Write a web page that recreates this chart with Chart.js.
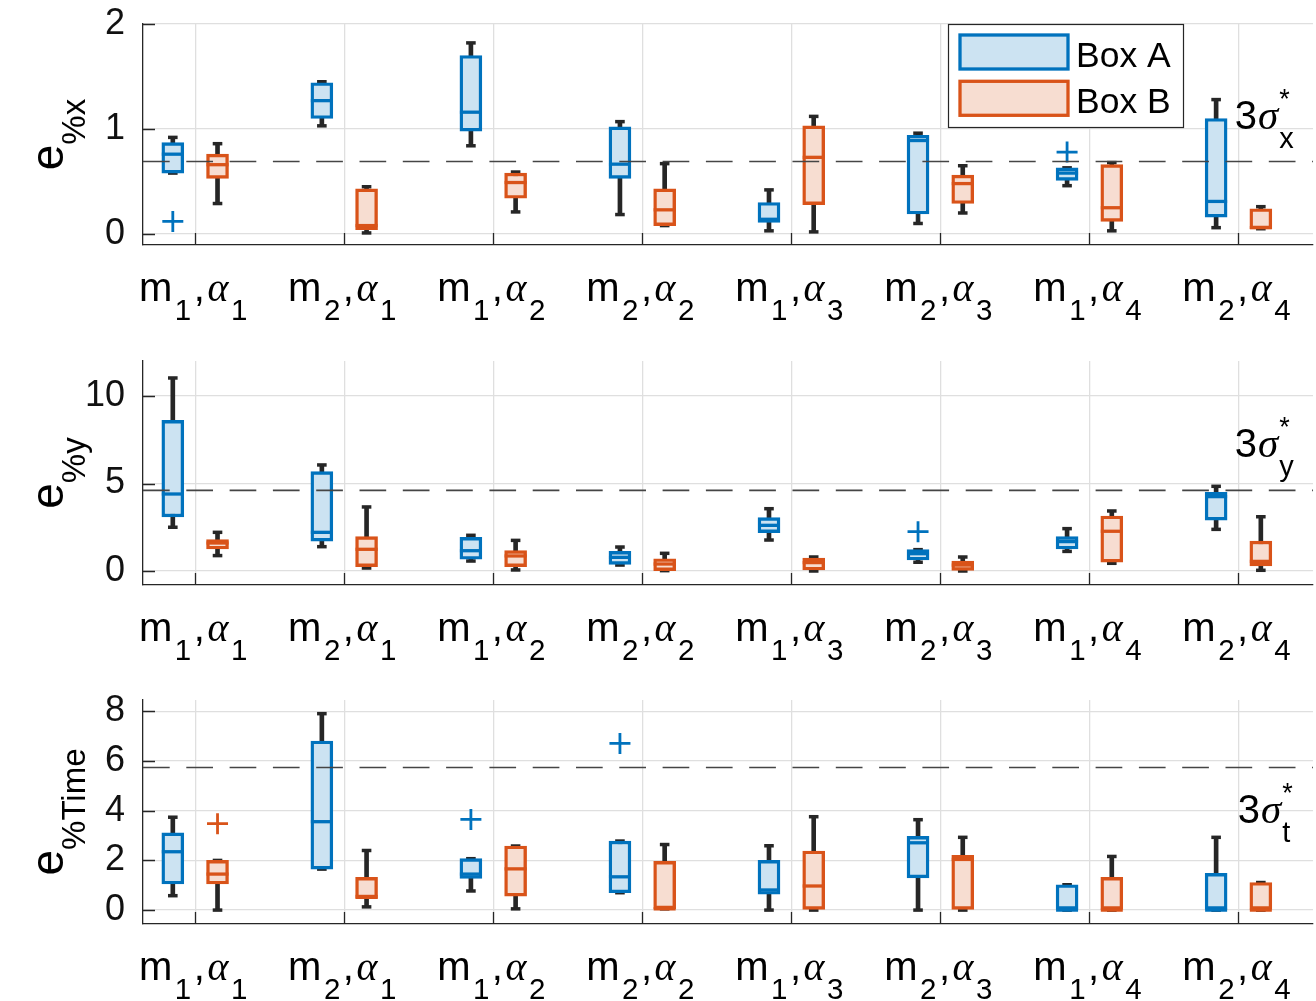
<!DOCTYPE html>
<html><head><meta charset="utf-8">
<script src="https://cdn.jsdelivr.net/npm/chart.js@4.4.1/dist/chart.umd.min.js"></script>
<style>
html,body{margin:0;padding:0;background:#fff;}
#wrap{position:relative;width:1316px;height:1001px;background:#fff;}
canvas{position:absolute;left:0;}
</style></head>
<body><div id="wrap">
<canvas id="c1" width="1316" height="330" style="top:0px"></canvas>
<canvas id="c2" width="1316" height="330" style="top:330px"></canvas>
<canvas id="c3" width="1316" height="341" style="top:660px"></canvas>
</div>
<script>
// ---------------- DATA ----------------
const categories = ['m_1,α_1','m_2,α_1','m_1,α_2','m_2,α_2','m_1,α_3','m_2,α_3','m_1,α_4','m_2,α_4'];
const seriesNames = ['Box A','Box B'];

// Panel 1 : e_%x
const ex_yTicks = [0, 1, 2];
const ex_thr = 0.69;
const ex_A_min = [0.58, 1.03, 0.84, 0.185, 0.03, 0.10, 0.46, 0.06];
const ex_A_q1  = [0.58, 1.10, 0.98, 0.53, 0.11, 0.19, 0.51, 0.16];
const ex_A_med = [0.76, 1.27, 1.16, 0.665, 0.14, 0.89, 0.58, 0.31];
const ex_A_q3  = [0.87, 1.44, 1.70, 1.02, 0.30, 0.94, 0.63, 1.10];
const ex_A_max = [0.92, 1.45, 1.82, 1.07, 0.42, 0.96, 0.63, 1.28];
const ex_A_out = [[1, 0.12], [7, 0.78]];
const ex_B_min = [0.29, 0.01, 0.21, 0.08, 0.02, 0.20, 0.03, 0.05];
const ex_B_q1  = [0.53, 0.04, 0.34, 0.08, 0.28, 0.29, 0.12, 0.05];
const ex_B_med = [0.66, 0.08, 0.49, 0.23, 0.73, 0.48, 0.25, 0.06];
const ex_B_q3  = [0.76, 0.43, 0.58, 0.43, 1.03, 0.56, 0.66, 0.24];
const ex_B_max = [0.86, 0.45, 0.59, 0.67, 1.12, 0.65, 0.68, 0.26];
const ex_B_out = [];

// Panel 2 : e_%y
const ey_yTicks = [0, 5, 10];
const ey_thr = 4.61;
const ey_A_min = [2.50, 1.39, 0.57, 0.34, 1.77, 0.50, 1.12, 2.38];
const ey_A_q1  = [3.09, 1.71, 0.67, 0.38, 2.19, 0.63, 1.26, 2.91];
const ey_A_med = [4.40, 2.21, 1.16, 0.78, 2.61, 0.99, 1.68, 4.25];
const ey_A_q3  = [8.61, 5.68, 1.92, 1.12, 3.05, 1.22, 1.96, 4.50];
const ey_A_max = [11.03, 6.06, 2.04, 1.37, 3.56, 1.22, 2.42, 4.84];
const ey_A_out = [[6, 2.25]];
const ey_B_min = [0.88, 0.17, 0.06, 0.02, 0.00, 0.00, 0.44, 0.04];
const ey_B_q1  = [1.26, 0.25, 0.25, 0.02, 0.06, 0.00, 0.51, 0.29];
const ey_B_med = [1.60, 1.24, 0.86, 0.40, 0.48, 0.34, 2.27, 0.55];
const ey_B_q3  = [1.79, 1.96, 1.16, 0.70, 0.74, 0.57, 3.14, 1.71];
const ey_B_max = [2.21, 3.66, 1.75, 1.01, 0.80, 0.80, 3.43, 3.10];
const ey_B_out = [];

// Panel 3 : e_%Time
const et_yTicks = [0, 2, 4, 6, 8];
const et_thr = 5.74;
const et_A_min = [0.58, 1.65, 0.77, 0.70, 0.00, 0.00, 0.00, 0.00];
const et_A_q1  = [1.05, 1.65, 1.28, 0.70, 0.64, 1.30, 0.00, 0.00];
const et_A_med = [2.35, 3.56, 1.45, 1.34, 0.81, 2.71, 0.00, 0.00];
const et_A_q3  = [3.11, 6.81, 2.07, 2.78, 2.00, 2.97, 1.02, 1.48];
const et_A_max = [3.74, 7.91, 2.07, 2.78, 2.59, 3.64, 1.02, 2.93];
const et_A_out = [[3, 3.65], [4, 6.71]];
const et_B_min = [0.00, 0.13, 0.05, 0.05, 0.00, 0.00, 0.00, 0.00];
const et_B_q1  = [1.05, 0.46, 0.56, 0.05, 0.00, 0.00, 0.00, 0.00];
const et_B_med = [1.45, 0.55, 1.66, 0.05, 0.97, 2.04, 0.00, 0.00];
const et_B_q3  = [2.00, 1.32, 2.58, 1.96, 2.38, 2.21, 1.32, 1.11];
const et_B_max = [2.00, 2.40, 2.58, 2.64, 3.76, 2.93, 2.16, 1.11];
const et_B_out = [[1, 3.48]];

// ---------------- STYLE ----------------
const FONT = "'Liberation Sans', Arial, Helvetica, sans-serif";
const SERIF = "'Liberation Serif', 'Times New Roman', serif";
const TXT = '#111';
const AX = '#262626';
const GRID = '#dfdfdf';
const COLORS = ['#0072BD', '#D95319'];
const FILLS = ['#cce3f2', '#f7ddd1'];
const WHISK = '#262626';
const OFFSETS = [-0.15, 0.15];
const xMin = 0.65, xMax = 8.5;

const panels = [
  {id:'c1', yMin:-0.105, yMax:2, yTicks:ex_yTicks, thr:ex_thr,
   S:[{min:ex_A_min,q1:ex_A_q1,med:ex_A_med,q3:ex_A_q3,max:ex_A_max,out:ex_A_out},
      {min:ex_B_min,q1:ex_B_q1,med:ex_B_med,q3:ex_B_q3,max:ex_B_max,out:ex_B_out}],
   yLabel:'e_{%x}', anno:'3σ^*_x', annoX:7.975, annoY:1.0, padTop:24, padBottom:85, legend:true},
  {id:'c2', yMin:-0.8, yMax:12, yTicks:ey_yTicks, thr:ey_thr,
   S:[{min:ey_A_min,q1:ey_A_q1,med:ey_A_med,q3:ey_A_q3,max:ey_A_max,out:ey_A_out},
      {min:ey_B_min,q1:ey_B_q1,med:ey_B_med,q3:ey_B_q3,max:ey_B_max,out:ey_B_out}],
   yLabel:'e_{%y}', anno:'3σ^*_y', annoX:7.975, annoY:6.5, padTop:31, padBottom:75, legend:false},
  {id:'c3', yMin:-0.56, yMax:8.46, yTicks:et_yTicks, thr:et_thr,
   S:[{min:et_A_min,q1:et_A_q1,med:et_A_med,q3:et_A_q3,max:et_A_max,out:et_A_out},
      {min:et_B_min,q1:et_B_q1,med:et_B_med,q3:et_B_q3,max:et_B_max,out:et_B_out}],
   yLabel:'e_{%Time}', anno:'3σ^*_t', annoX:7.995, annoY:3.5, padTop:40, padBottom:77, legend:false}
];

// ---------------- RICH TEXT ----------------
function parseRich(s){
  const out=[]; let i=0;
  while(i<s.length){
    const c=s[i];
    if(c==='_'||c==='^'){
      const kind = c==='_'?'sub':'sup'; i++;
      let t;
      if(s[i]==='{'){ const j=s.indexOf('}',i); t=s.slice(i+1,j); i=j+1; }
      else { t=s[i]; i++; }
      out.push({text:t, kind});
    } else {
      i++;
      out.push({text:c, kind:/[\u03b1-\u03c9]/.test(c)?'greek':'base'});
    }
  }
  return out;
}
function layoutRich(ctx, tokens, st){
  let x=0, supStart=0, prev=null; const items=[];
  tokens.forEach(tk=>{
    const font = st[tk.kind];
    ctx.font = font;
    const w = ctx.measureText(tk.text).width;
    let sx = x;
    if(tk.kind==='sub' && prev==='sup') sx = supStart;
    const dy = tk.kind==='sub'?st.subDy:(tk.kind==='sup'?st.supDy:0);
    items.push({text:tk.text, font, x:sx, dy});
    if(tk.kind==='sup') supStart = sx;
    x = (tk.kind==='sub' && prev==='sup') ? Math.max(x, sx+w) : sx+w;
    x += (st.gap||0);
    prev = tk.kind;
  });
  return {items, width:x-(st.gap||0)};
}
function drawRich(ctx, str, st, x, y, align, color){
  const L = layoutRich(ctx, parseRich(str), st);
  const x0 = align==='center' ? x - L.width/2 : x;
  ctx.fillStyle = color; ctx.textBaseline='alphabetic'; ctx.textAlign='left';
  L.items.forEach(it=>{ ctx.font = it.font; ctx.fillText(it.text, x0+it.x, y+it.dy); });
}
const XLAB = {base:`40px ${FONT}`, sub:`29.5px ${FONT}`, sup:`27px ${FONT}`, greek:`italic 40px ${SERIF}`, subDy:19, supDy:-20, gap:2.5};
const YLAB = {base:`46px ${FONT}`, sub:`33px ${FONT}`, sup:`27px ${FONT}`, greek:`italic 46px ${SERIF}`, subDy:22, supDy:-20, gap:0};
const ANNO = {base:`40px ${FONT}`, sub:`29px ${FONT}`, sup:`27px ${FONT}`, greek:`italic 41px ${SERIF}`, subDy:19, supDy:-21, gap:1};

// ---------------- DATASETS ----------------
function boxDatasets(s, k){
  const off = OFFSETS[k], col = COLORS[k], fill = FILLS[k];
  const pos = i => i + 1 + off;
  return [
    {type:'bar', label:'whisk', grouped:false, order:6, barThickness:4, backgroundColor:WHISK, borderWidth:0,
     data:s.min.map((v,i)=>({x:pos(i), y:[v, s.max[i]]}))},
    {type:'line', label:'caps', showLine:false, order:5, pointStyle:'line', pointRadius:4.8, pointBorderWidth:3.5,
     pointBorderColor:WHISK, pointBackgroundColor:WHISK,
     data:[...s.min.map((v,i)=>({x:pos(i),y:v})), ...s.max.map((v,i)=>({x:pos(i),y:v}))]},
    {type:'bar', label:seriesNames[k], grouped:false, order:4, barThickness:22, backgroundColor:fill,
     borderColor:col, borderWidth:3.4, borderSkipped:false,
     data:s.q1.map((v,i)=>({x:pos(i), y:[v, s.q3[i]]}))},
    {type:'line', label:'median', showLine:false, order:3, pointStyle:'line', pointRadius:11, pointBorderWidth:3.3,
     pointBorderColor:col, pointBackgroundColor:col,
     data:s.med.map((v,i)=>({x:pos(i),y:v}))},
    {type:'line', label:'outliers', showLine:false, order:2, pointStyle:'cross', pointRadius:10.5, pointBorderWidth:2.8,
     pointBorderColor:col, pointBackgroundColor:col,
     data:s.out.map(([c,v])=>({x:pos(c-1),y:v}))}
  ];
}

function decorPlugin(p){
  return {
    id:'decor',
    afterDraw(chart){
      const {ctx, chartArea:a, scales:{x, y}} = chart;
      ctx.save();
      // inward tick marks
      ctx.strokeStyle = AX; ctx.lineWidth = 1.3;
      ctx.beginPath();
      p.yTicks.forEach(v=>{ const py = Math.round(y.getPixelForValue(v))+0.5; ctx.moveTo(a.left, py); ctx.lineTo(a.left+12, py); });
      categories.forEach((c,i)=>{ const px = Math.round(x.getPixelForValue(i+1))+0.5; ctx.moveTo(px, a.bottom); ctx.lineTo(px, a.bottom-12); });
      ctx.stroke();
      // x tick labels
      categories.forEach((c,i)=>{
        drawRich(ctx, c, XLAB, x.getPixelForValue(i+1) - 2, a.bottom+56, 'center', '#000');
      });
      // y label
      ctx.save();
      ctx.translate(a.left-80, (a.top+a.bottom)/2);
      ctx.rotate(-Math.PI/2);
      drawRich(ctx, p.yLabel, YLAB, 0, 0, 'center', '#000');
      ctx.restore();
      // annotation
      drawRich(ctx, p.anno, ANNO, x.getPixelForValue(p.annoX), y.getPixelForValue(p.annoY), 'left', '#000');
      // legend
      if(p.legend){
        const lx = a.right-365, ly = a.top, lw = 235, lh = 103;
        ctx.fillStyle = '#fff'; ctx.fillRect(lx, ly, lw, lh);
        ctx.strokeStyle = AX; ctx.lineWidth = 1.2; ctx.strokeRect(lx+0.5, ly+0.5, lw, lh);
        seriesNames.forEach((n,k)=>{
          const sy = ly + 11 + k*46.3;
          ctx.fillStyle = FILLS[k]; ctx.fillRect(lx+12, sy, 108, 34);
          ctx.strokeStyle = COLORS[k]; ctx.lineWidth = 3.3; ctx.strokeRect(lx+12, sy, 108, 34);
          ctx.fillStyle = '#000'; ctx.font = `35.5px ${FONT}`; ctx.textBaseline='alphabetic'; ctx.textAlign='left';
          ctx.fillText(n, lx+128, sy+31.5);
        });
      }
      ctx.restore();
    }
  };
}

function noPad(s){ s.paddingTop = 0; s.paddingBottom = 0; s.paddingLeft = 0; s.paddingRight = 0; }

panels.forEach(p=>{
  const datasets = [];
  p.S.forEach((s,k)=>datasets.push(...boxDatasets(s,k)));
  datasets.push({type:'line', label:'threshold', order:1, data:[{x:xMin,y:p.thr},{x:xMax,y:p.thr}],
    borderColor:'#454545', borderWidth:1.6, borderDash:[26.7,16.6], pointRadius:0, fill:false});
  new Chart(document.getElementById(p.id), {
    type:'bar',
    data:{datasets},
    options:{
      responsive:false, animation:false, events:[],
      layout:{autoPadding:false, padding:{left:0, right:3, top:p.padTop, bottom:p.padBottom}},
      plugins:{legend:{display:false}, tooltip:{enabled:false}},
      scales:{
        x:{type:'linear', min:xMin, max:xMax, offset:false,
           afterBuildTicks:s=>{ s.ticks = categories.map((c,i)=>({value:i+1})); },
           afterFit:s=>{ s.height = 0; noPad(s); },
           ticks:{display:false},
           grid:{color:GRID, lineWidth:1.3, drawTicks:false, offset:false},
           border:{display:true, color:AX, width:1.3}},
        y:{type:'linear', min:p.yMin, max:p.yMax,
           afterBuildTicks:s=>{ s.ticks = p.yTicks.map(v=>({value:v})); },
           afterFit:s=>{ s.width = 143; noPad(s); },
           ticks:{font:{family:FONT, size:36}, color:TXT, padding:18, callback:v=>String(v)},
           grid:{color:GRID, lineWidth:1.3, drawTicks:false},
           border:{display:true, color:AX, width:1.3}}
      }
    },
    plugins:[decorPlugin(p)]
  });
});
</script>
</body></html>
